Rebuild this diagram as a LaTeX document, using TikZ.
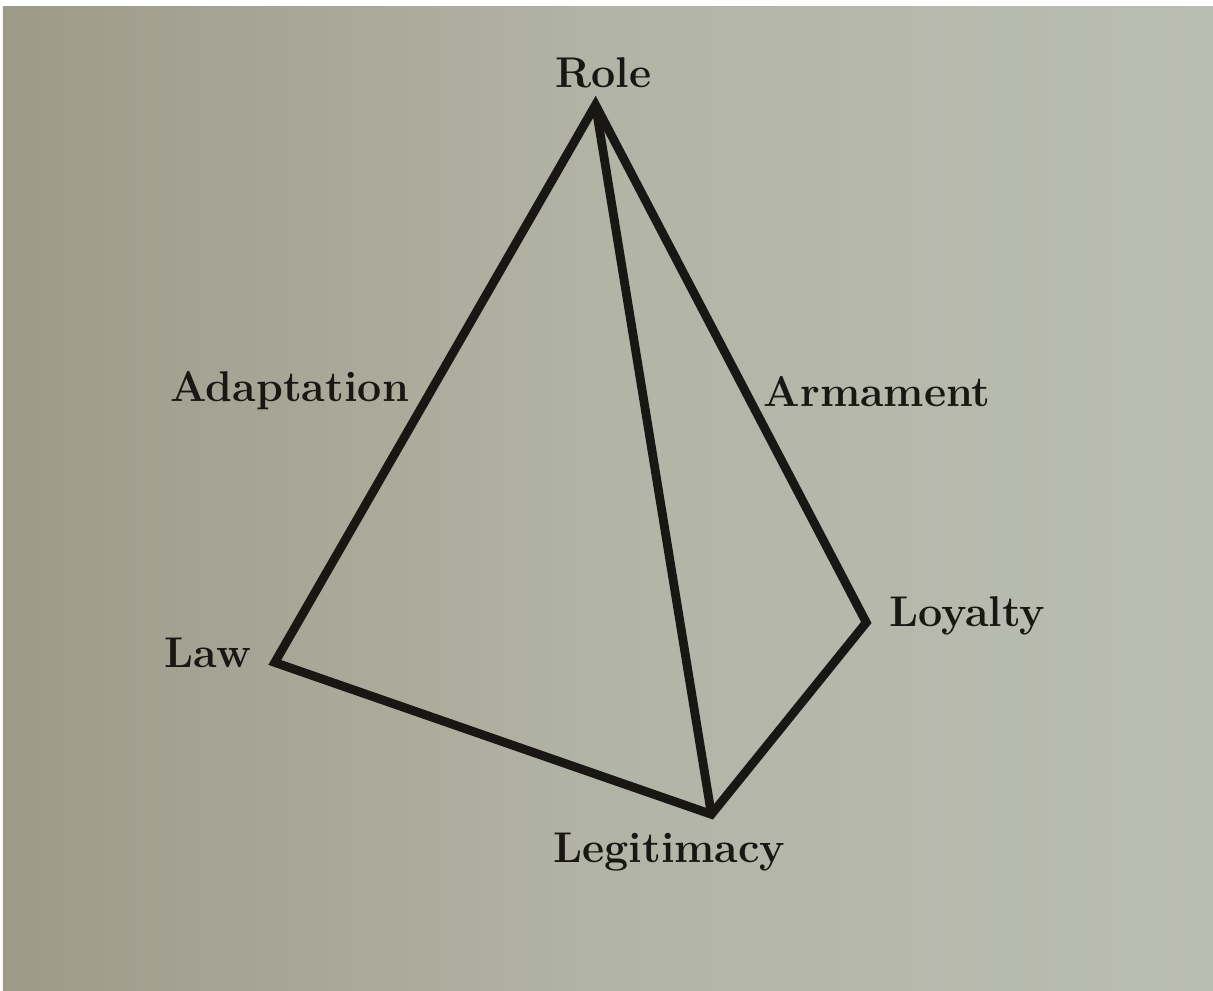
\documentclass[tikz,border=0pt]{standalone}
\usepackage{tikz}
\usetikzlibrary{positioning}
\definecolor{PaperDark}{RGB}{122,115,99}
\definecolor{PaperTan}{RGB}{158,154,137}
\definecolor{PaperMid}{RGB}{178,180,166}
\definecolor{PaperGrey}{RGB}{186,189,178}
\definecolor{PaperLight}{RGB}{190,193,184}
\definecolor{InkBlack}{RGB}{24,23,20}
\pgfdeclarehorizontalshading{paperfade}{100bp}{color(0bp)=(PaperDark); color(25bp)=(PaperTan); color(50bp)=(PaperMid); color(75bp)=(PaperGrey); color(100bp)=(PaperLight)}

\begin{document}
\begin{tikzpicture}[x=0.02cm, y=-0.02cm,
    edge/.style={draw=InkBlack, line width=5pt, line join=miter, line cap=butt},
    term/.style={anchor=base, inner sep=0pt, text=InkBlack, font=\fontsize{24.5}{29}\selectfont\bfseries}]
        % Page background, shadowed towards the spine on the left
        \fill[white] (0,0) rectangle (1213,990);
        \shade[shading=paperfade] (3,7) rectangle (1214,991);

        % Corners of the pyramid
        \coordinate (role) at (596,105);
        \coordinate (law) at (275,663);
        \coordinate (legit) at (712,815);
        \coordinate (loyalty) at (867,623);

        % Outline and front ridge (hidden back edge law--loyalty left out)
        \draw[edge] (law) -- (role) -- (loyalty) -- (legit) -- cycle;
        \draw[edge] (role) -- (legit);

        % Corner and edge names
        \node[term] (roleText) at (604,88) {Role};
        \node[term] (adaptText) at (290,402) {Adaptation};
        \node[term] (armText) at (878,407) {Armament};
        \node[term] (lawText) at (208,668) {Law};
        \node[term] (loyalText) at (968,627) {Loyalty};
        \node[term] (legitText) at (670,863) {Legitimacy};
    \end{tikzpicture}
\end{document}
